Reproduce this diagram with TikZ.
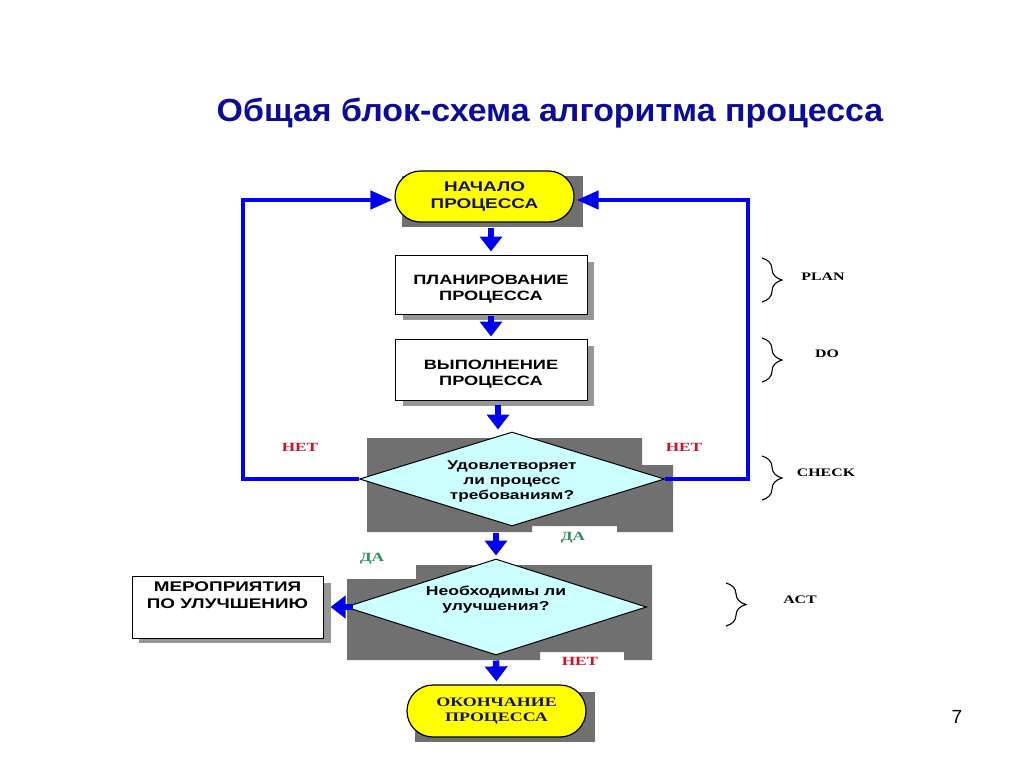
\documentclass[tikz,border=0pt]{standalone}
\usepackage{fontspec}
\setmainfont{Liberation Serif}
\setsansfont{Liberation Sans}
\newfontfamily\dsans[FakeStretch=1.35]{Liberation Sans}
\newfontfamily\dserif[FakeStretch=1.38]{Liberation Serif}
\newfontfamily\tsans[FakeStretch=1.06]{Liberation Sans}
\usetikzlibrary{shapes.geometric,shapes.misc,arrows.meta,decorations.pathreplacing,calc}
\definecolor{titleblue}{RGB}{12,12,150}
\definecolor{navytext}{RGB}{20,20,110}
\definecolor{arrowblue}{RGB}{0,0,235}
\definecolor{termyellow}{RGB}{255,255,0}
\definecolor{diacyan}{RGB}{204,255,255}
\definecolor{darkshade}{RGB}{112,112,112}
\definecolor{lightshade}{RGB}{150,150,150}
\definecolor{netred}{RGB}{200,20,40}
\definecolor{dagreen}{RGB}{51,140,100}
\tikzset{
  term/.style={rounded rectangle, draw=black, line width=1.2pt, fill=termyellow,
    minimum width=179pt, minimum height=51pt, inner sep=0pt, align=center,
    font=\dsans\bfseries\fontsize{14}{17}\selectfont, text=navytext},
  box/.style={rectangle, draw=black, line width=1pt, fill=white,
    minimum width=192pt, minimum height=59pt, inner sep=0pt},
  boxtext/.style={inner sep=0pt, align=center,
    font=\dsans\bfseries\fontsize{13.5}{16}\selectfont},
  merotext/.style={inner sep=0pt, align=center,
    font=\dsans\bfseries\fontsize{14}{17}\selectfont},
  dia/.style={diamond, aspect=3.2, draw=black, line width=1pt, fill=diacyan, inner sep=0pt},
  diatext/.style={inner sep=0pt, align=center,
    font=\dsans\bfseries\fontsize{12.8}{15}\selectfont},
  arr/.style={draw=arrowblue, line width=6.5pt, -{Triangle[width=22pt,length=15pt]}},
  looparr/.style={draw=arrowblue, line width=4.5pt, line join=miter,
    -{Triangle[width=18pt,length=22pt]}},
  shd/.style={fill=darkshade},
  lshd/.style={fill=lightshade},
  netlbl/.style={text=netred, font=\dserif\bfseries\fontsize{12.5}{14}\selectfont, inner sep=0pt},
  dalbl/.style={text=dagreen, font=\dserif\bfseries\fontsize{12.5}{14}\selectfont, inner sep=0pt},
  pdca/.style={font=\dserif\bfseries\fontsize{11.5}{13}\selectfont, inner sep=0pt},
  brc/.style={draw=black, line width=1.1pt, decorate, decoration={brace, amplitude=20pt}}
}
\begin{document}
\begin{tikzpicture}[x=1pt,y=-1pt]
\useasboundingbox[fill=white] (0,0) rectangle (1024,768);

% title
\node[text=titleblue, font=\tsans\bfseries\fontsize{32}{36}\selectfont, inner sep=0pt]
  (title) at (550,113) {Общая блок-схема алгоритма процесса};

% start
\fill[shd] (402,176) rectangle (583,227);
\node[term] (start) at (484.5,196.5) {НАЧАЛО\\ПРОЦЕССА};

% plan
\fill[lshd] (403,262) rectangle (594,320);
\node[box] (plan) at (491,284.5) {};
\node[boxtext] (plant) at ([yshift=-5pt]plan.center) {ПЛАНИРОВАНИЕ\\ПРОЦЕССА};

% do
\fill[lshd] (403,346) rectangle (594,406);
\node[box, minimum height=61pt] (do) at (491,369.5) {};
\node[boxtext] (dot) at ([yshift=-5pt]do.center) {ВЫПОЛНЕНИЕ\\ПРОЦЕССА};

% diamond 1
\fill[shd] (367,438) -- (642,438) -- (642,465) -- (673,465) -- (673,532) -- (617,532)
  -- (617,526) -- (532,526) -- (532,532) -- (367,532) -- cycle;
\node[dia, minimum width=305pt, minimum height=94pt] (d1) at (512,479) {};
\node[diatext] (d1t) at ([yshift=-2pt]d1.center) {Удовлетворяет\\ли процесс\\требованиям?};

% diamond 2
\fill[shd] (347,579) -- (416,579) -- (416,565) -- (652,565) -- (652,660) -- (624,660)
  -- (624,652) -- (540,652) -- (540,660) -- (347,660) -- cycle;
\node[dia, minimum width=301pt, minimum height=96pt] (d2) at (496,607) {};
\node[diatext, font=\dsans\bfseries\fontsize{13}{15}\selectfont] (d2t) at ([yshift=7pt]d2.center) {Необходимы ли\\улучшения?};

% improvement box
\fill[lshd] (139,583) rectangle (331,643);
\node[box, minimum width=191pt, minimum height=62pt] (mero) at (227.5,607) {};
\node[merotext, anchor=north] (merot) at ([yshift=-6pt]mero.north) {МЕРОПРИЯТИЯ\\ПО УЛУЧШЕНИЮ};

% end
\fill[shd] (415,692) rectangle (595,742);
\node[term, minimum width=179pt, minimum height=52pt, text=navytext,
  font=\dserif\bfseries\fontsize{13}{15}\selectfont] (end) at (496.5,711) {ОКОНЧАНИЕ\\ПРОЦЕССА};

% vertical arrows
\draw[arr, shorten <=5pt, shorten >=3pt] (start.south -| plan.north) -- (plan.north);
\draw[arr, shorten <=1pt, shorten >=2pt] (plan.south) -- (do.north);
\draw[arr, shorten <=4pt, shorten >=2pt] ([xshift=7pt]do.south) -- ([xshift=7pt]do.south |- d1.north);
\draw[arr, shorten <=6pt, shorten >=3pt] (d1.south -| d2.north) -- (d2.north);
\draw[arr, shorten <=5pt, shorten >=3pt] (d2.south) -- (end.north);
\draw[arr] ([xshift=8pt]d2.west) -- ([xshift=7pt]mero.east);

% loops
\coordinate (lc) at (243,200);
\coordinate (rc) at (748,200);
\draw[looparr] (d1.west) -- (d1.west -| lc) -- (lc) -- ([xshift=-2pt]lc -| start.west);
\draw[looparr] (d1.east) -- (d1.east -| rc) -- (rc) -- ([xshift=2pt]rc -| start.east);

% labels
\node[netlbl] (net1) at (300,447) {НЕТ};
\node[netlbl] (net2) at (684,447) {НЕТ};
\node[netlbl] (net3) at (580,661) {НЕТ};
\node[dalbl] (da1) at (573,538) {ДА};
\node[dalbl] (da2) at (372,559) {ДА};

% braces
\draw[brc] (762,258) -- (762,302);
\node[pdca] (plan-l) at (823,277) {PLAN};
\draw[brc] (762,338) -- (762,382);
\node[pdca] (do-l) at (827,354) {DO};
\draw[brc] (762,456) -- (762,500);
\node[pdca] (check-l) at (826,473) {CHECK};
\draw[brc] (726,583) -- (726,626);
\node[pdca] (act-l) at (800,600) {ACT};

% page number
\node[font=\sffamily\fontsize{19}{22}\selectfont, inner sep=0pt] (pg) at (957,717) {7};
\end{tikzpicture}
\end{document}
